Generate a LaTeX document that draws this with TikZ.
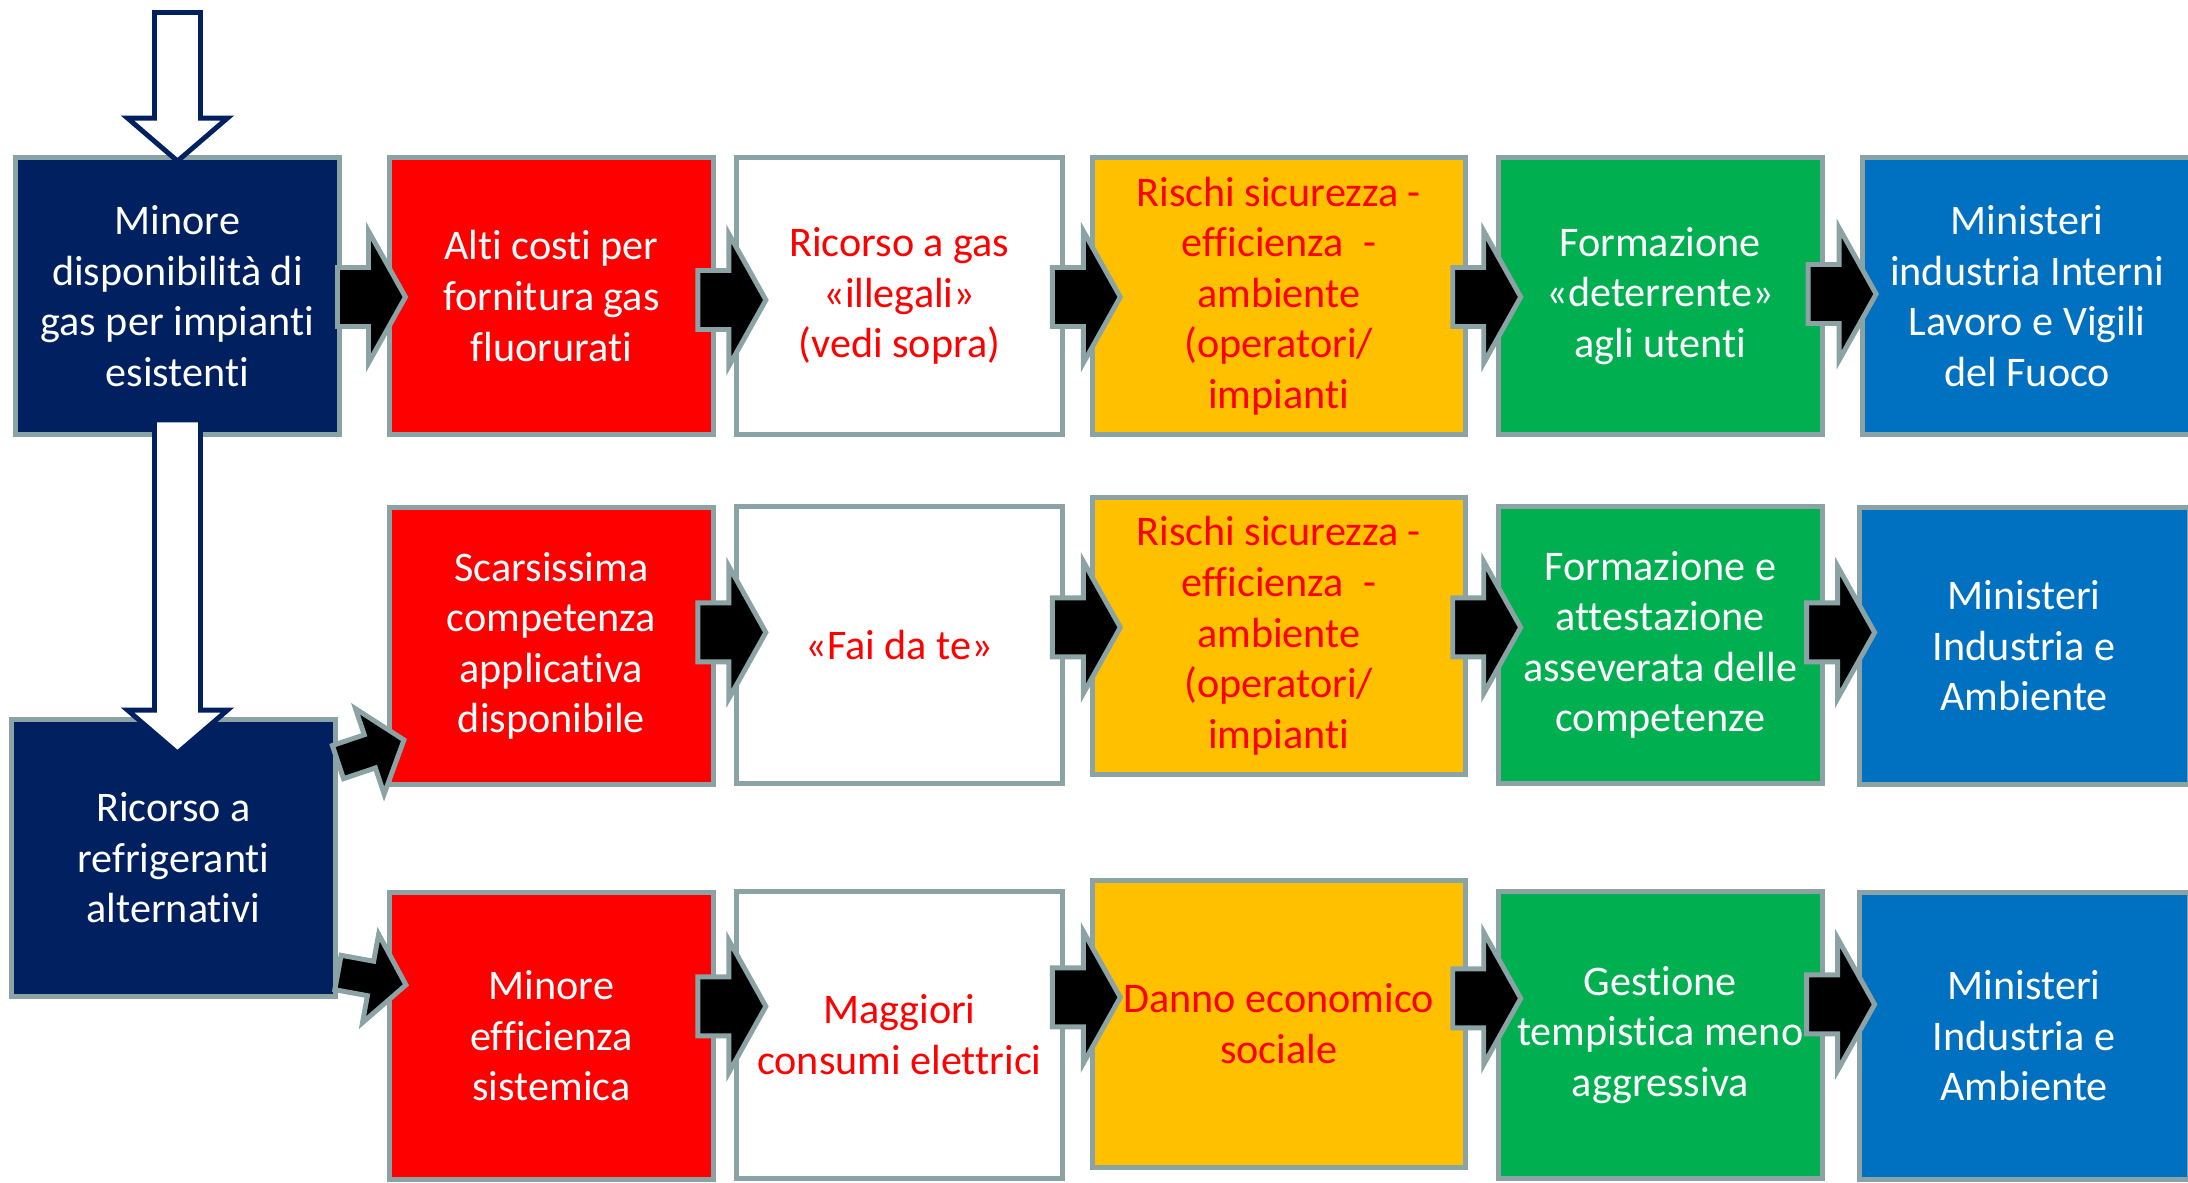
\documentclass[tikz,border=0pt]{standalone}
\usepackage{fontspec}
\setmainfont{Carlito}[Ligatures=NoCommon]
\usepackage{tikz}
\usetikzlibrary{positioning,calc}

\definecolor{navy}{HTML}{002060}
\definecolor{bord}{HTML}{8CA3A6}
\definecolor{ppred}{HTML}{FF0000}
\definecolor{ppyellow}{HTML}{FFC000}
\definecolor{ppgreen}{HTML}{00B050}
\definecolor{ppblue}{HTML}{0070C0}

% block arrow drawn as a connector: #1 half shaft, #2 half head, #3 head length
\tikzset{
  blockarrow/.style n args={3}{
    to path={let \p1=(\tikztostart), \p2=(\tikztotarget), \n1={atan2(\y2-\y1,\x2-\x1)} in
      ($(\p1)+({\n1+90}:#1)$)
      -- ($(\p2)+({\n1+180}:#3)+({\n1+90}:#1)$)
      -- ($(\p2)+({\n1+180}:#3)+({\n1+90}:#2)$)
      -- (\p2)
      -- ($(\p2)+({\n1+180}:#3)+({\n1-90}:#2)$)
      -- ($(\p2)+({\n1+180}:#3)+({\n1-90}:#1)$)
      -- ($(\p1)+({\n1-90}:#1)$) -- cycle}},
  blk/.style={blockarrow={0.295}{0.66}{0.37}, draw=bord, fill=black, line width=1.4pt, line join=miter},
  blkd/.style={blockarrow={0.175}{0.45}{0.36}, draw=bord, fill=black, line width=1.4pt, line join=miter},
  hollow/.style={blockarrow={0.23}{0.50}{0.43}, draw=navy, fill=white, line width=1.4pt, line join=miter}
}

\begin{document}
\begin{tikzpicture}[font=\fontsize{12}{14.4}\selectfont]
  \tikzstyle{box}=[rectangle, draw=bord, line width=1.4pt, minimum width=3.24cm, minimum height=2.77cm, inner sep=2pt, align=center]
  \tikzstyle{navyb}=[box, fill=navy, text=white]
  \tikzstyle{redb}=[box, fill=ppred, text=white]
  \tikzstyle{whiteb}=[box, fill=white, text=ppred, minimum width=3.26cm]
  \tikzstyle{yelb}=[box, fill=ppyellow, text=ppred, minimum width=3.73cm]
  \tikzstyle{greenb}=[box, fill=ppgreen, text=white]
  \tikzstyle{blueb}=[box, fill=ppblue, text=white, minimum width=3.30cm]
  \tikzstyle{tall}=[minimum height=2.87cm]
  \useasboundingbox (0,0) rectangle (21.88,-11.82);

  % first row
  \node[navyb] (dispon) at (1.775,-2.96) {Minore\\disponibilità di\\gas per impianti\\esistenti};
  \node[redb, right=0.45cm of dispon] (costi) {Alti costi per\\fornitura gas\\fluorurati};
  \node[whiteb, right=0.18cm of costi] (illegali) {Ricorso a gas\\«illegali»\\(vedi sopra)};
  \node[yelb, right=0.25cm of illegali] (rischi1) {Rischi sicurezza -\\efficienza~~-\\ambiente\\(operatori/\\impianti};
  \node[greenb, right=0.28cm of rischi1] (deterr) {Formazione\\«deterrente»\\agli utenti};
  \node[blueb, right=0.35cm of deterr] (minint) {Ministeri\\industria Interni\\Lavoro e Vigili\\del Fuoco};

  % second row
  \node[redb, below=0.68cm of costi] (scarsa) {Scarsissima\\competenza\\applicativa\\disponibile};
  \node[whiteb, below=0.67cm of illegali] (faidate) {«Fai da te»};
  \node[yelb, below=0.58cm of rischi1] (rischi2) {Rischi sicurezza -\\efficienza~~-\\ambiente\\(operatori/\\impianti};
  \node[greenb, below=0.67cm of deterr] (attest) {Formazione e\\attestazione\\asseverata delle\\competenze};
  \node[blueb, below=0.68cm of minint, xshift=-0.03cm] (minamb1) {Ministeri\\Industria e\\Ambiente};

  % third row
  \node[navyb] (alternat) at (1.735,-8.58) {Ricorso a\\refrigeranti\\alternativi};
  \node[redb, tall, below=1.03cm of scarsa] (effic) {Minore\\efficienza\\sistemica};
  \node[whiteb, tall, below=1.03cm of faidate] (consumi) {Maggiori\\consumi elettrici};
  \node[yelb, tall, below=1.01cm of rischi2] (danno) {Danno economico\\sociale};
  \node[greenb, tall, below=1.03cm of attest] (tempi) {Gestione\\tempistica meno\\aggressiva};
  \node[blueb, tall, below=1.03cm of minamb1] (minamb2) {Ministeri\\Industria e\\Ambiente};

  % hollow arrows
  \coordinate (entry) at (1.775,-0.125);
  \draw[hollow] (entry) to ($(dispon.north)+(0,-0.06)$);
  \draw[hollow] ($(dispon.south)+(0,0.17)$) to ($(dispon.south |- alternat.north)+(0,-0.36)$);

  % black arrows, first row
  \draw[blk] ($(dispon.east)!.5!(costi.west)+(-0.27,-0.01)$) to ($(dispon.east)!.5!(costi.west)+(0.41,-0.01)$);
  \draw[blk] ($(costi.east)!.5!(illegali.west)+(-0.27,-0.04)$) to ($(costi.east)!.5!(illegali.west)+(0.41,-0.04)$);
  \draw[blk] ($(illegali.east)!.5!(rischi1.west)+(-0.25,-0.01)$) to ($(illegali.east)!.5!(rischi1.west)+(0.43,-0.01)$);
  \draw[blk] ($(rischi1.east)!.5!(deterr.west)+(-0.29,-0.01)$) to ($(rischi1.east)!.5!(deterr.west)+(0.39,-0.01)$);
  \draw[blk] ($(deterr.east)!.5!(minint.west)+(-0.34,0.02)$) to ($(deterr.east)!.5!(minint.west)+(0.34,0.02)$);

  % black arrows, second row
  \draw[blkd] ($(alternat.north east)+(0.0,-0.45)$) to ($(scarsa.south west)+(0.17,0.47)$);
  \draw[blk] ($(scarsa.east)!.5!(faidate.west)+(-0.27,0.13)$) to ($(scarsa.east)!.5!(faidate.west)+(0.41,0.13)$);
  \draw[blk] ($(faidate.east)!.5!(rischi2.west)+(-0.25,0.13)$) to ($(faidate.east)!.5!(rischi2.west)+(0.43,0.13)$);
  \draw[blk] ($(rischi2.east)!.5!(attest.west)+(-0.29,0.13)$) to ($(rischi2.east)!.5!(attest.west)+(0.39,0.13)$);
  \draw[blk] ($(attest.east)!.5!(minamb1.west)+(-0.34,0.13)$) to ($(attest.east)!.5!(minamb1.west)+(0.34,0.13)$);

  % black arrows, third row
  \draw[blkd] ($(alternat.south east)+(0.0,0.265)$) to ($(effic.north west)+(0.19,-0.95)$);
  \draw[blk] ($(effic.east)!.5!(consumi.west)+(-0.27,0.29)$) to ($(effic.east)!.5!(consumi.west)+(0.41,0.29)$);
  \draw[blk] ($(consumi.east)!.5!(danno.west)+(-0.25,0.32)$) to ($(consumi.east)!.5!(danno.west)+(0.43,0.32)$);
  \draw[blk] ($(danno.east)!.5!(tempi.west)+(-0.29,0.31)$) to ($(danno.east)!.5!(tempi.west)+(0.39,0.31)$);
  \draw[blk] ($(tempi.east)!.5!(minamb2.west)+(-0.34,0.31)$) to ($(tempi.east)!.5!(minamb2.west)+(0.34,0.31)$);
\end{tikzpicture}
\end{document}
